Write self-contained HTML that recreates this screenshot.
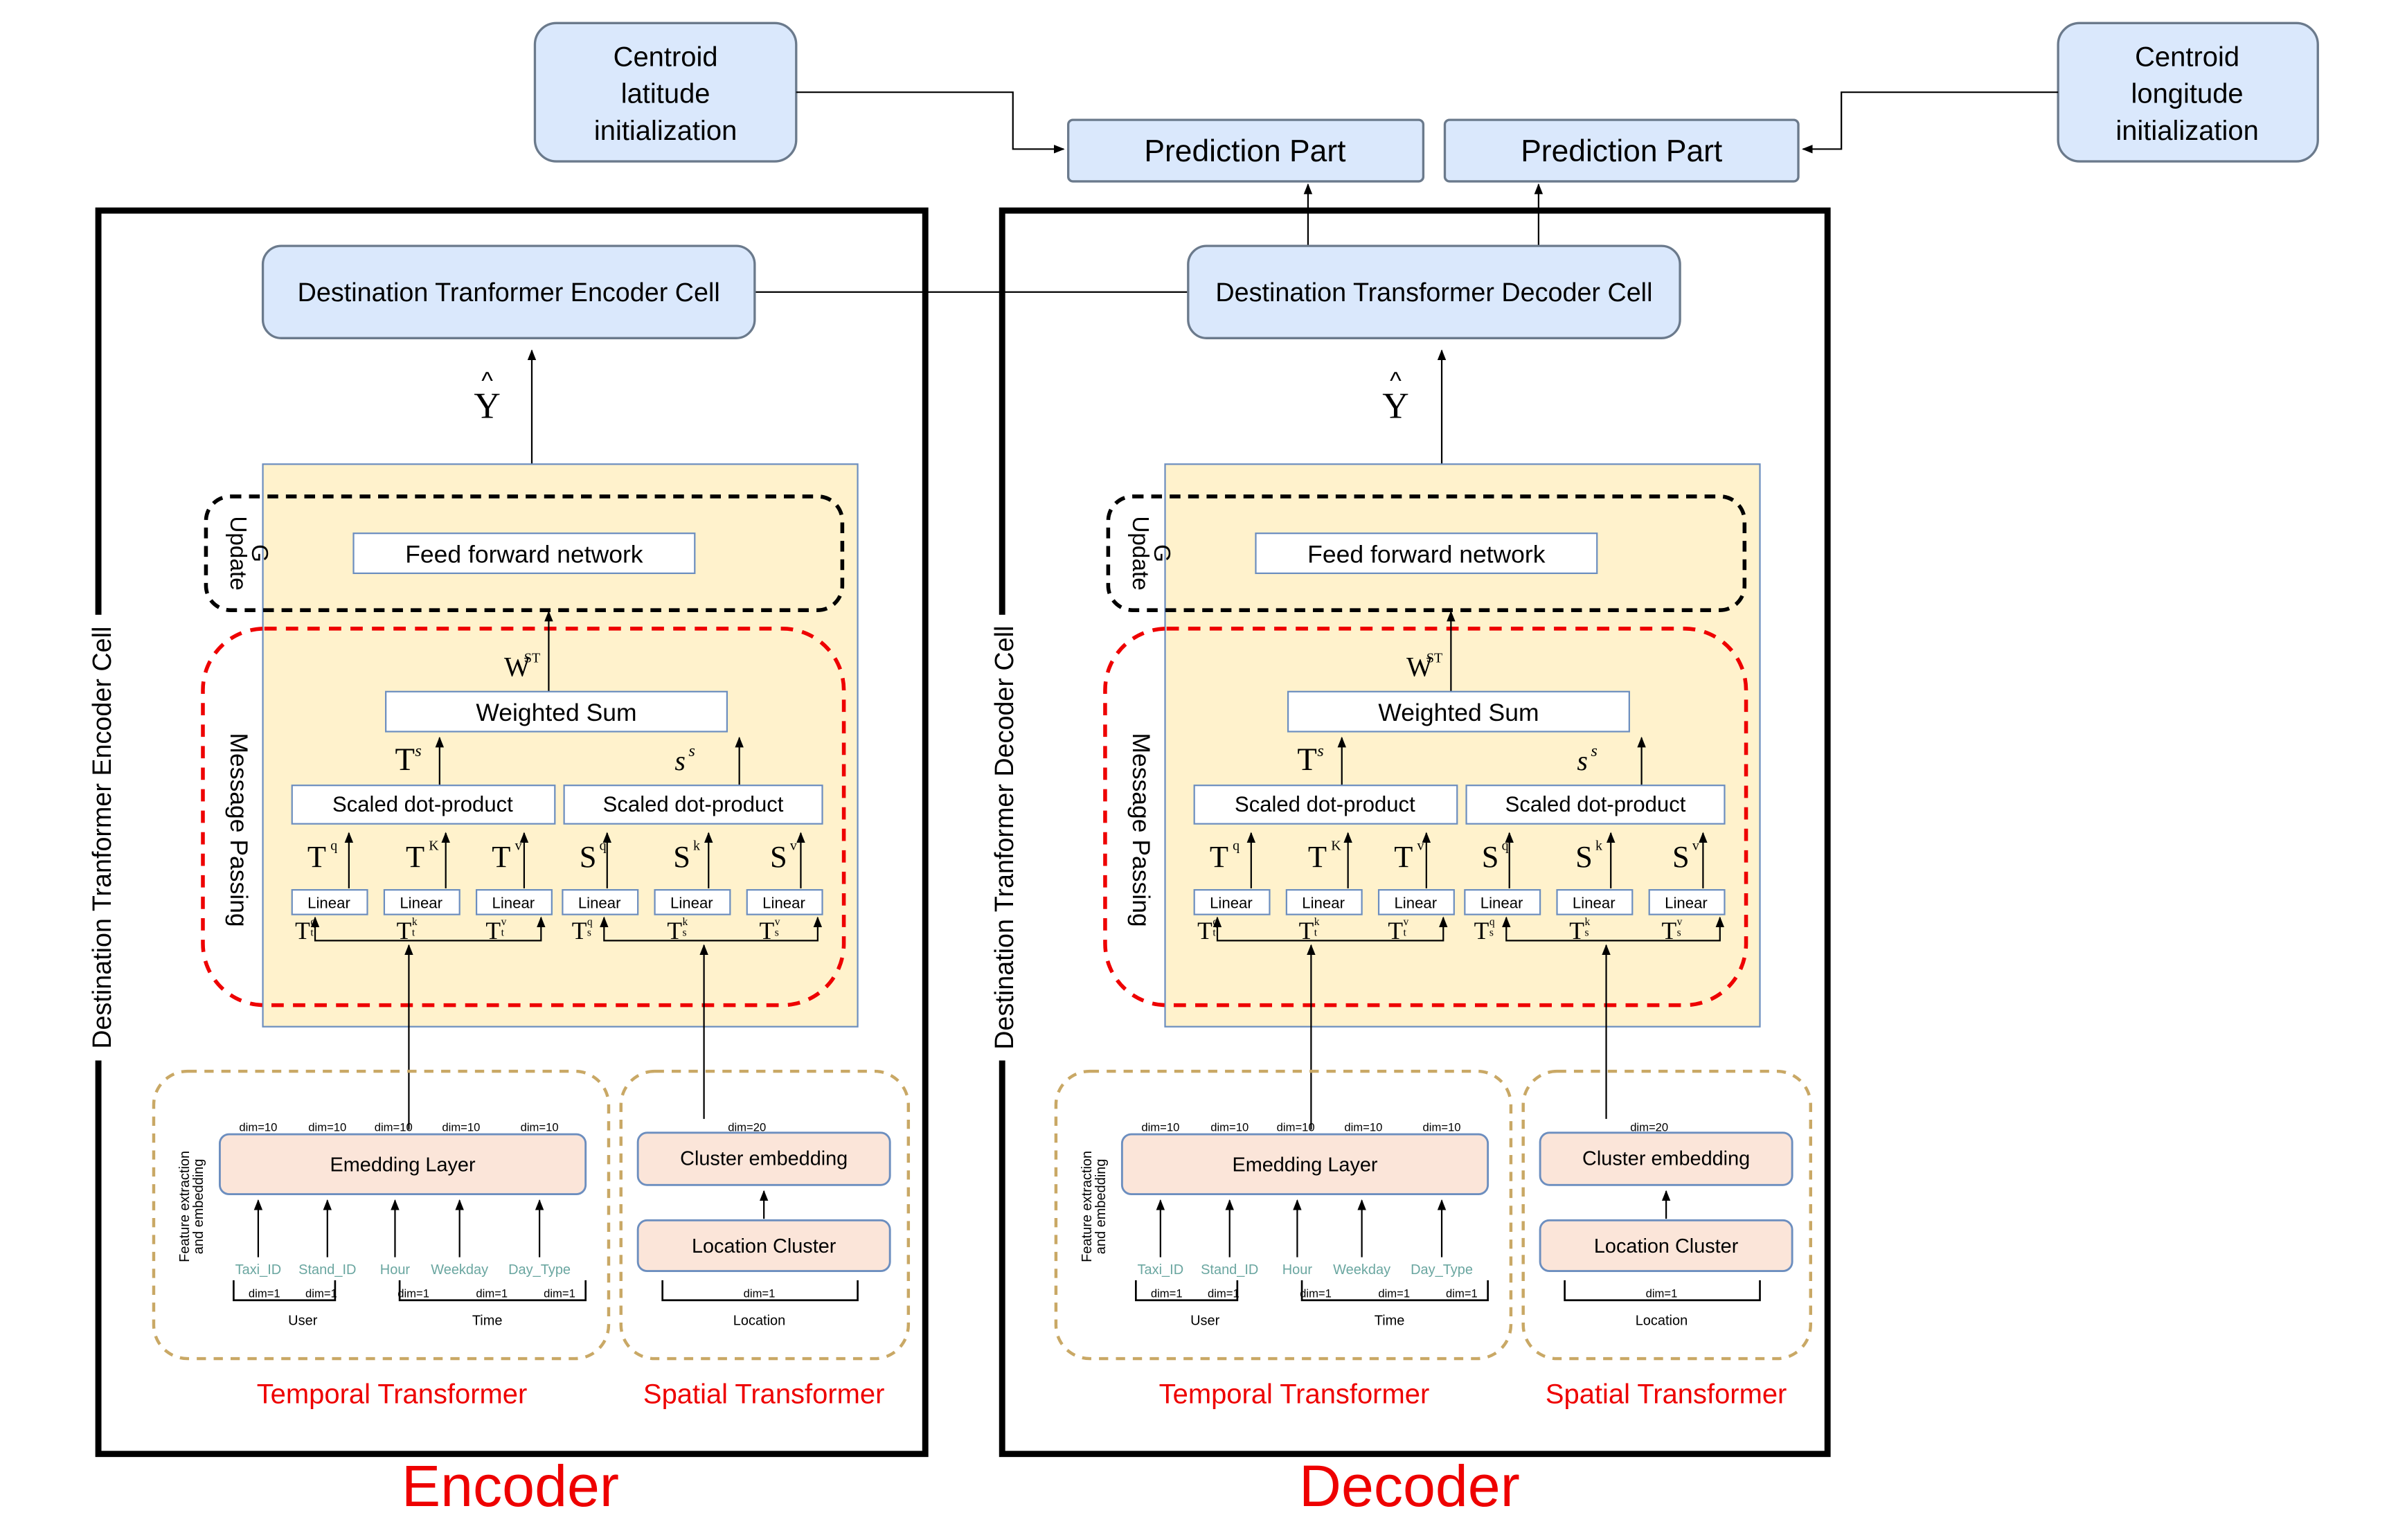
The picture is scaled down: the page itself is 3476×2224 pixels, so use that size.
<!DOCTYPE html>
<html><head><meta charset="utf-8"><style>html,body{margin:0;padding:0;background:#fff}svg{display:block}text{font-family:"Liberation Sans",sans-serif}.s{font-family:"Liberation Serif",serif}</style></head><body>
<svg width="3476" height="2224" viewBox="0 0 1566 1002" preserveAspectRatio="none" xmlns="http://www.w3.org/2000/svg">
<defs><marker id="a" viewBox="0 0 10 10" refX="9" refY="5" markerWidth="7" markerHeight="7" orient="auto-start-reverse"><path d="M0,1 L10,5 L0,9 z" fill="#000"/></marker></defs>
<rect x="348" y="15" width="170" height="90" rx="14" fill="#dae8fc" stroke="#6b7a8c" stroke-width="1.5"/>
<text x="433" y="43" font-size="18" text-anchor="middle">Centroid</text><text x="433" y="67" font-size="18" text-anchor="middle">latitude</text><text x="433" y="91" font-size="18" text-anchor="middle">initialization</text>
<rect x="1339" y="15" width="169" height="90" rx="14" fill="#dae8fc" stroke="#6b7a8c" stroke-width="1.5"/>
<text x="1423" y="43" font-size="18" text-anchor="middle">Centroid</text><text x="1423" y="67" font-size="18" text-anchor="middle">longitude</text><text x="1423" y="91" font-size="18" text-anchor="middle">initialization</text>
<rect x="695" y="78" width="231" height="40" rx="3" fill="#dae8fc" stroke="#6b7a8c" stroke-width="1.5"/><text x="810" y="105" font-size="20" text-anchor="middle">Prediction Part</text>
<rect x="940" y="78" width="230" height="40" rx="3" fill="#dae8fc" stroke="#6b7a8c" stroke-width="1.5"/><text x="1055" y="105" font-size="20" text-anchor="middle">Prediction Part</text>
<polyline points="518,60 659,60 659,97 692,97" fill="none" stroke="#000" marker-end="url(#a)"/>
<polyline points="1339,60 1198,60 1198,97 1173,97" fill="none" stroke="#000" marker-end="url(#a)"/>
<line x1="851" y1="160" x2="851" y2="120" stroke="#000" marker-end="url(#a)"/>
<line x1="1001" y1="160" x2="1001" y2="120" stroke="#000" marker-end="url(#a)"/>
<rect x="64" y="137" width="538" height="809" fill="none" stroke="#000" stroke-width="4"/>
<rect x="652" y="137" width="537" height="809" fill="none" stroke="#000" stroke-width="4"/>
<line x1="491" y1="190" x2="773" y2="190" stroke="#000"/>
<rect x="171" y="160" width="320" height="60" rx="12" fill="#dae8fc" stroke="#6b7a8c" stroke-width="1.5"/><text x="331" y="196" font-size="17" text-anchor="middle">Destination Tranformer Encoder Cell</text>
<rect x="773" y="160" width="320" height="60" rx="12" fill="#dae8fc" stroke="#6b7a8c" stroke-width="1.5"/><text x="933" y="196" font-size="17" text-anchor="middle">Destination Transformer Decoder Cell</text>
<rect x="57" y="400" width="18" height="290" fill="#fff"/>
<text transform="translate(72,545) rotate(-90)" font-size="17" text-anchor="middle">Destination Tranformer Encoder Cell</text>
<rect x="645" y="400" width="18" height="290" fill="#fff"/>
<text transform="translate(659,545) rotate(-90)" font-size="17" text-anchor="middle">Destination Tranformer Decoder Cell</text>
<text x="332" y="980" font-size="38" fill="#e00" text-anchor="middle">Encoder</text>
<text x="917" y="980" font-size="38" fill="#e00" text-anchor="middle">Decoder</text>

<g>
<text x="317" y="272" font-size="24" class="s" text-anchor="middle">Y</text><text x="317" y="253" font-size="16" text-anchor="middle">^</text>
<line x1="346" y1="302" x2="346" y2="228" stroke="#000" marker-end="url(#a)"/>
<rect x="171" y="302" width="387" height="366" fill="#fff2cc" stroke="#6c8ebf"/>
<rect x="134" y="323" width="414" height="74" rx="16" fill="none" stroke="#000" stroke-width="2.5" stroke-dasharray="7,5"/>
<text transform="translate(150,360) rotate(90)" font-size="15" text-anchor="middle">Update</text>
<text transform="translate(164,360) rotate(90)" font-size="15" text-anchor="middle">G</text>
<rect x="230" y="347" width="222" height="26" fill="#fff" stroke="#6c8ebf"/><text x="341" y="366" font-size="16" text-anchor="middle">Feed forward network</text>
<rect x="132" y="409" width="417" height="245" rx="40" fill="none" stroke="#e00" stroke-width="2.5" stroke-dasharray="8,6"/>
<text transform="translate(150,540) rotate(90)" font-size="16" text-anchor="middle">Message Passing</text>
<text x="328" y="440" font-size="18" class="s">W</text><text x="341" y="431" font-size="9" class="s">ST</text>
<line x1="357" y1="450" x2="357" y2="398" stroke="#000" marker-end="url(#a)"/>
<rect x="251" y="450" width="222" height="26" fill="#fff" stroke="#6c8ebf"/><text x="362" y="469" font-size="16" text-anchor="middle">Weighted Sum</text>
<text x="257" y="501" font-size="21" class="s">T</text><text x="270" y="492" font-size="11" class="s" font-style="italic">s</text>
<text x="439" y="501" font-size="18" class="s" font-style="italic">s</text><text x="448" y="492" font-size="11" class="s" font-style="italic">s</text>
<line x1="286" y1="511" x2="286" y2="480" stroke="#000" marker-end="url(#a)"/>
<line x1="481" y1="511" x2="481" y2="480" stroke="#000" marker-end="url(#a)"/>
<rect x="190" y="511" width="171" height="25" fill="#fff" stroke="#6c8ebf"/><text x="275" y="528" font-size="14" text-anchor="middle">Scaled dot-product</text>
<rect x="367" y="511" width="168" height="25" fill="#fff" stroke="#6c8ebf"/><text x="451" y="528" font-size="14" text-anchor="middle">Scaled dot-product</text>
<g class="s" font-size="20"><text x="200" y="564" class="s">T</text><text x="264" y="564" class="s">T</text><text x="320" y="564" class="s">T</text><text x="377" y="564" class="s">S</text><text x="438" y="564" class="s">S</text><text x="501" y="564" class="s">S</text></g>
<g font-size="9"><text x="215" y="553" class="s">q</text><text x="279" y="553" class="s">K</text><text x="335" y="553" class="s">v</text><text x="390" y="553" class="s">q</text><text x="451" y="553" class="s">k</text><text x="514" y="553" class="s">v</text></g>
<g stroke="#000"><line x1="227" y1="578" x2="227" y2="542" marker-end="url(#a)"/><line x1="290" y1="578" x2="290" y2="542" marker-end="url(#a)"/><line x1="341" y1="578" x2="341" y2="542" marker-end="url(#a)"/><line x1="395" y1="578" x2="395" y2="542" marker-end="url(#a)"/><line x1="461" y1="578" x2="461" y2="542" marker-end="url(#a)"/><line x1="521" y1="578" x2="521" y2="542" marker-end="url(#a)"/></g>
<g fill="#fff" stroke="#6c8ebf"><rect x="190" y="579" width="49" height="16"/><rect x="250" y="579" width="49" height="16"/><rect x="310" y="579" width="49" height="16"/><rect x="366" y="579" width="49" height="16"/><rect x="426" y="579" width="49" height="16"/><rect x="486" y="579" width="49" height="16"/></g>
<g font-size="10" text-anchor="middle"><text x="214" y="591">Linear</text><text x="274" y="591">Linear</text><text x="334" y="591">Linear</text><text x="390" y="591">Linear</text><text x="450" y="591">Linear</text><text x="510" y="591">Linear</text></g>
<g font-size="16"><text x="192" y="611" class="s">T</text><text x="258" y="611" class="s">T</text><text x="316" y="611" class="s">T</text><text x="372" y="611" class="s">T</text><text x="434" y="611" class="s">T</text><text x="494" y="611" class="s">T</text></g>
<g font-size="7"><text x="202" y="602" class="s">q</text><text x="202" y="609" class="s">t</text><text x="268" y="602" class="s">k</text><text x="268" y="609" class="s">t</text><text x="326" y="602" class="s">v</text><text x="326" y="609" class="s">t</text><text x="382" y="602" class="s">q</text><text x="382" y="609" class="s">s</text><text x="444" y="602" class="s">k</text><text x="444" y="609" class="s">s</text><text x="504" y="602" class="s">v</text><text x="504" y="609" class="s">s</text></g>
<g stroke="#000" fill="none"><polyline points="205,597 205,612 352,612 352,597" marker-start="url(#a)" marker-end="url(#a)"/><polyline points="393,597 393,612 532,612 532,597" marker-start="url(#a)" marker-end="url(#a)"/>
<line x1="266" y1="735" x2="266" y2="615" marker-end="url(#a)"/><line x1="458" y1="728" x2="458" y2="615" marker-end="url(#a)"/></g>
<rect x="100" y="697" width="296" height="187" rx="22" fill="none" stroke="#c9a865" stroke-width="2" stroke-dasharray="6,5"/>
<rect x="404" y="697" width="187" height="187" rx="22" fill="none" stroke="#c9a865" stroke-width="2" stroke-dasharray="6,5"/>
<text transform="translate(123,785) rotate(-90)" font-size="9" text-anchor="middle">Feature extraction</text>
<text transform="translate(132,785) rotate(-90)" font-size="9" text-anchor="middle">and embedding</text>
<g font-size="7.5" text-anchor="middle"><text x="168" y="736">dim=10</text><text x="213" y="736">dim=10</text><text x="256" y="736">dim=10</text><text x="300" y="736">dim=10</text><text x="351" y="736">dim=10</text><text x="486" y="736">dim=20</text></g>
<rect x="143" y="738" width="238" height="39" rx="6" fill="#fbe5d9" stroke="#6c8ebf" stroke-width="1.3"/><text x="262" y="762" font-size="13" text-anchor="middle">Emedding Layer</text>
<g stroke="#000"><line x1="168" y1="818" x2="168" y2="781" marker-end="url(#a)"/><line x1="213" y1="818" x2="213" y2="781" marker-end="url(#a)"/><line x1="257" y1="818" x2="257" y2="781" marker-end="url(#a)"/><line x1="299" y1="818" x2="299" y2="781" marker-end="url(#a)"/><line x1="351" y1="818" x2="351" y2="781" marker-end="url(#a)"/><line x1="497" y1="793" x2="497" y2="775" marker-end="url(#a)"/></g>
<g font-size="9" fill="#6aa6a0" text-anchor="middle"><text x="168" y="829">Taxi_ID</text><text x="213" y="829">Stand_ID</text><text x="257" y="829">Hour</text><text x="299" y="829">Weekday</text><text x="351" y="829">Day_Type</text></g>
<g fill="none" stroke="#000" stroke-width="1.2"><polyline points="152,833 152,846 218,846 218,833"/><polyline points="260,833 260,846 381,846 381,833"/><polyline points="431,833 431,846 558,846 558,833"/></g>
<g font-size="7.5" text-anchor="middle"><text x="172" y="844">dim=1</text><text x="209" y="844">dim=1</text><text x="269" y="844">dim=1</text><text x="320" y="844">dim=1</text><text x="364" y="844">dim=1</text><text x="494" y="844">dim=1</text></g>
<g font-size="9" text-anchor="middle"><text x="197" y="862">User</text><text x="317" y="862">Time</text><text x="494" y="862">Location</text></g>
<rect x="415" y="737" width="164" height="34" rx="6" fill="#fbe5d9" stroke="#6c8ebf" stroke-width="1.3"/><text x="497" y="758" font-size="13" text-anchor="middle">Cluster embedding</text>
<rect x="415" y="794" width="164" height="33" rx="6" fill="#fbe5d9" stroke="#6c8ebf" stroke-width="1.3"/><text x="497" y="815" font-size="13" text-anchor="middle">Location Cluster</text>
<text x="255" y="913" font-size="18" fill="#e00" text-anchor="middle">Temporal Transformer</text>
<text x="497" y="913" font-size="18" fill="#e00" text-anchor="middle">Spatial Transformer</text>
</g>

<g transform="translate(587,0)">
<text x="321" y="272" font-size="24" class="s" text-anchor="middle">Y</text><text x="321" y="253" font-size="16" text-anchor="middle">^</text>
<line x1="351" y1="302" x2="351" y2="228" stroke="#000" marker-end="url(#a)"/>
<rect x="171" y="302" width="387" height="366" fill="#fff2cc" stroke="#6c8ebf"/>
<rect x="134" y="323" width="414" height="74" rx="16" fill="none" stroke="#000" stroke-width="2.5" stroke-dasharray="7,5"/>
<text transform="translate(150,360) rotate(90)" font-size="15" text-anchor="middle">Update</text>
<text transform="translate(164,360) rotate(90)" font-size="15" text-anchor="middle">G</text>
<rect x="230" y="347" width="222" height="26" fill="#fff" stroke="#6c8ebf"/><text x="341" y="366" font-size="16" text-anchor="middle">Feed forward network</text>
<rect x="132" y="409" width="417" height="245" rx="40" fill="none" stroke="#e00" stroke-width="2.5" stroke-dasharray="8,6"/>
<text transform="translate(150,540) rotate(90)" font-size="16" text-anchor="middle">Message Passing</text>
<text x="328" y="440" font-size="18" class="s">W</text><text x="341" y="431" font-size="9" class="s">ST</text>
<line x1="357" y1="450" x2="357" y2="398" stroke="#000" marker-end="url(#a)"/>
<rect x="251" y="450" width="222" height="26" fill="#fff" stroke="#6c8ebf"/><text x="362" y="469" font-size="16" text-anchor="middle">Weighted Sum</text>
<text x="257" y="501" font-size="21" class="s">T</text><text x="270" y="492" font-size="11" class="s" font-style="italic">s</text>
<text x="439" y="501" font-size="18" class="s" font-style="italic">s</text><text x="448" y="492" font-size="11" class="s" font-style="italic">s</text>
<line x1="286" y1="511" x2="286" y2="480" stroke="#000" marker-end="url(#a)"/>
<line x1="481" y1="511" x2="481" y2="480" stroke="#000" marker-end="url(#a)"/>
<rect x="190" y="511" width="171" height="25" fill="#fff" stroke="#6c8ebf"/><text x="275" y="528" font-size="14" text-anchor="middle">Scaled dot-product</text>
<rect x="367" y="511" width="168" height="25" fill="#fff" stroke="#6c8ebf"/><text x="451" y="528" font-size="14" text-anchor="middle">Scaled dot-product</text>
<g class="s" font-size="20"><text x="200" y="564" class="s">T</text><text x="264" y="564" class="s">T</text><text x="320" y="564" class="s">T</text><text x="377" y="564" class="s">S</text><text x="438" y="564" class="s">S</text><text x="501" y="564" class="s">S</text></g>
<g font-size="9"><text x="215" y="553" class="s">q</text><text x="279" y="553" class="s">K</text><text x="335" y="553" class="s">v</text><text x="390" y="553" class="s">q</text><text x="451" y="553" class="s">k</text><text x="514" y="553" class="s">v</text></g>
<g stroke="#000"><line x1="227" y1="578" x2="227" y2="542" marker-end="url(#a)"/><line x1="290" y1="578" x2="290" y2="542" marker-end="url(#a)"/><line x1="341" y1="578" x2="341" y2="542" marker-end="url(#a)"/><line x1="395" y1="578" x2="395" y2="542" marker-end="url(#a)"/><line x1="461" y1="578" x2="461" y2="542" marker-end="url(#a)"/><line x1="521" y1="578" x2="521" y2="542" marker-end="url(#a)"/></g>
<g fill="#fff" stroke="#6c8ebf"><rect x="190" y="579" width="49" height="16"/><rect x="250" y="579" width="49" height="16"/><rect x="310" y="579" width="49" height="16"/><rect x="366" y="579" width="49" height="16"/><rect x="426" y="579" width="49" height="16"/><rect x="486" y="579" width="49" height="16"/></g>
<g font-size="10" text-anchor="middle"><text x="214" y="591">Linear</text><text x="274" y="591">Linear</text><text x="334" y="591">Linear</text><text x="390" y="591">Linear</text><text x="450" y="591">Linear</text><text x="510" y="591">Linear</text></g>
<g font-size="16"><text x="192" y="611" class="s">T</text><text x="258" y="611" class="s">T</text><text x="316" y="611" class="s">T</text><text x="372" y="611" class="s">T</text><text x="434" y="611" class="s">T</text><text x="494" y="611" class="s">T</text></g>
<g font-size="7"><text x="202" y="602" class="s">q</text><text x="202" y="609" class="s">t</text><text x="268" y="602" class="s">k</text><text x="268" y="609" class="s">t</text><text x="326" y="602" class="s">v</text><text x="326" y="609" class="s">t</text><text x="382" y="602" class="s">q</text><text x="382" y="609" class="s">s</text><text x="444" y="602" class="s">k</text><text x="444" y="609" class="s">s</text><text x="504" y="602" class="s">v</text><text x="504" y="609" class="s">s</text></g>
<g stroke="#000" fill="none"><polyline points="205,597 205,612 352,612 352,597" marker-start="url(#a)" marker-end="url(#a)"/><polyline points="393,597 393,612 532,612 532,597" marker-start="url(#a)" marker-end="url(#a)"/>
<line x1="266" y1="735" x2="266" y2="615" marker-end="url(#a)"/><line x1="458" y1="728" x2="458" y2="615" marker-end="url(#a)"/></g>
<rect x="100" y="697" width="296" height="187" rx="22" fill="none" stroke="#c9a865" stroke-width="2" stroke-dasharray="6,5"/>
<rect x="404" y="697" width="187" height="187" rx="22" fill="none" stroke="#c9a865" stroke-width="2" stroke-dasharray="6,5"/>
<text transform="translate(123,785) rotate(-90)" font-size="9" text-anchor="middle">Feature extraction</text>
<text transform="translate(132,785) rotate(-90)" font-size="9" text-anchor="middle">and embedding</text>
<g font-size="7.5" text-anchor="middle"><text x="168" y="736">dim=10</text><text x="213" y="736">dim=10</text><text x="256" y="736">dim=10</text><text x="300" y="736">dim=10</text><text x="351" y="736">dim=10</text><text x="486" y="736">dim=20</text></g>
<rect x="143" y="738" width="238" height="39" rx="6" fill="#fbe5d9" stroke="#6c8ebf" stroke-width="1.3"/><text x="262" y="762" font-size="13" text-anchor="middle">Emedding Layer</text>
<g stroke="#000"><line x1="168" y1="818" x2="168" y2="781" marker-end="url(#a)"/><line x1="213" y1="818" x2="213" y2="781" marker-end="url(#a)"/><line x1="257" y1="818" x2="257" y2="781" marker-end="url(#a)"/><line x1="299" y1="818" x2="299" y2="781" marker-end="url(#a)"/><line x1="351" y1="818" x2="351" y2="781" marker-end="url(#a)"/><line x1="497" y1="793" x2="497" y2="775" marker-end="url(#a)"/></g>
<g font-size="9" fill="#6aa6a0" text-anchor="middle"><text x="168" y="829">Taxi_ID</text><text x="213" y="829">Stand_ID</text><text x="257" y="829">Hour</text><text x="299" y="829">Weekday</text><text x="351" y="829">Day_Type</text></g>
<g fill="none" stroke="#000" stroke-width="1.2"><polyline points="152,833 152,846 218,846 218,833"/><polyline points="260,833 260,846 381,846 381,833"/><polyline points="431,833 431,846 558,846 558,833"/></g>
<g font-size="7.5" text-anchor="middle"><text x="172" y="844">dim=1</text><text x="209" y="844">dim=1</text><text x="269" y="844">dim=1</text><text x="320" y="844">dim=1</text><text x="364" y="844">dim=1</text><text x="494" y="844">dim=1</text></g>
<g font-size="9" text-anchor="middle"><text x="197" y="862">User</text><text x="317" y="862">Time</text><text x="494" y="862">Location</text></g>
<rect x="415" y="737" width="164" height="34" rx="6" fill="#fbe5d9" stroke="#6c8ebf" stroke-width="1.3"/><text x="497" y="758" font-size="13" text-anchor="middle">Cluster embedding</text>
<rect x="415" y="794" width="164" height="33" rx="6" fill="#fbe5d9" stroke="#6c8ebf" stroke-width="1.3"/><text x="497" y="815" font-size="13" text-anchor="middle">Location Cluster</text>
<text x="255" y="913" font-size="18" fill="#e00" text-anchor="middle">Temporal Transformer</text>
<text x="497" y="913" font-size="18" fill="#e00" text-anchor="middle">Spatial Transformer</text>
</g>
</svg>
</body></html>
